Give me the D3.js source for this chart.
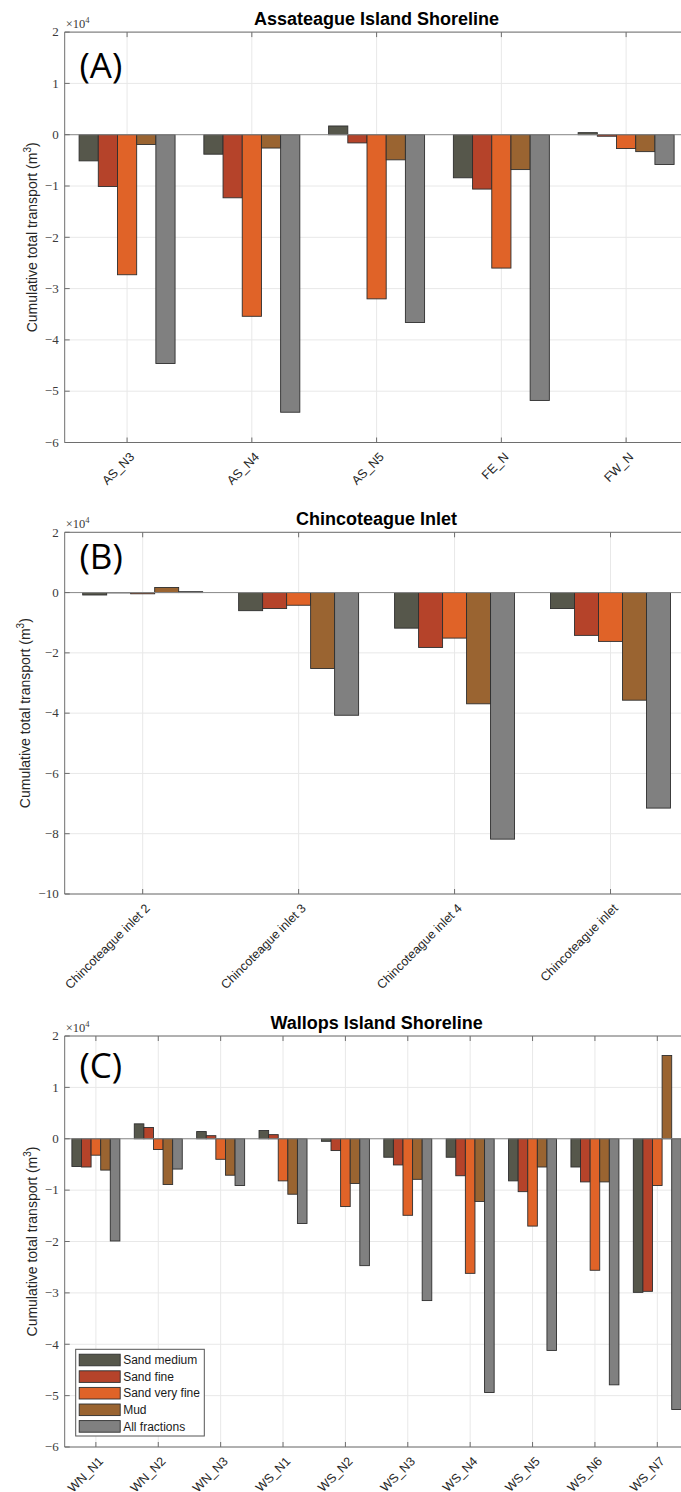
<!DOCTYPE html>
<html><head><meta charset="utf-8">
<script src="https://cdn.jsdelivr.net/npm/d3@7"></script>
<style>body{margin:0;background:#fff} svg{display:block}</style>
</head><body>
<svg id="chart" width="681" height="1492"></svg>
<script>
const seriesNames = ["Sand medium","Sand fine","Sand very fine","Mud","All fractions"];
const seriesColors = ["#56574b","#b5432a","#e06328","#9a6431","#808080"];

// Panel A (m^3)
const catsA = ["AS_N3","AS_N4","AS_N5","FE_N","FW_N"];
const sandMediumA   = [-5100, -3800, 1700, -8400, 400];
const sandFineA     = [-10100, -12300, -1600, -10600, -300];
const sandVeryFineA = [-27300, -35400, -32000, -26000, -2700];
const mudA          = [-1900, -2600, -4900, -6800, -3300];
const allA          = [-44600, -54100, -36600, -51800, -5800];
const ticksA = [20000, 10000, 0, -10000, -20000, -30000, -40000, -50000, -60000];

// Panel B (m^3)
const catsB = ["Chincoteague inlet 2","Chincoteague inlet 3","Chincoteague inlet 4","Chincoteague inlet"];
const sandMediumB   = [-800, -6000, -11800, -5300];
const sandFineB     = [-100, -5300, -18200, -14200];
const sandVeryFineB = [-400, -4200, -15100, -16200];
const mudB          = [1700, -25200, -36900, -35700];
const allB          = [300, -40700, -81800, -71500];
const ticksB = [20000, 0, -20000, -40000, -60000, -80000, -100000];

// Panel C (m^3)
const catsC = ["WN_N1","WN_N2","WN_N3","WS_N1","WS_N2","WS_N3","WS_N4","WS_N5","WS_N6","WS_N7"];
const sandMediumC   = [-5400, 2900, 1400, 1600, -500, -3600, -3600, -8200, -5500, -29900];
const sandFineC     = [-5500, 2200, 600, 800, -2300, -5100, -7200, -10300, -8400, -29700];
const sandVeryFineC = [-3200, -2100, -4000, -8200, -13200, -14900, -26200, -17000, -25600, -9100];
const mudC          = [-6100, -8900, -7100, -10800, -8700, -7900, -12200, -5500, -8400, 16200];
const allC          = [-19900, -5900, -9100, -16500, -24700, -31500, -49400, -41200, -47900, -52700];
const ticksC = [20000, 10000, 0, -10000, -20000, -30000, -40000, -50000, -60000];

const panels = [
  {title:"Assateague Island Shoreline", letter:"(A)", cats:catsA,
   values:[sandMediumA, sandFineA, sandVeryFineA, mudA, allA], ticks:ticksA,
   top:32.1, bottom:442.5, letterY:78, ylabelX:37, legend:false},
  {title:"Chincoteague Inlet", letter:"(B)", cats:catsB,
   values:[sandMediumB, sandFineB, sandVeryFineB, mudB, allB], ticks:ticksB,
   top:532.3, bottom:894, letterY:569, ylabelX:30, legend:false},
  {title:"Wallops Island Shoreline", letter:"(C)", cats:catsC,
   values:[sandMediumC, sandFineC, sandVeryFineC, mudC, allC], ticks:ticksC,
   top:1036, bottom:1447, letterY:1078, ylabelX:37, legend:true}
];

const svg = d3.select("#chart");
const xLeft = 64.7, xRight = 688.5;
const axisColor = "#6e6e6e", gridColor = "#e8e8e8";
const fmt = v => { const n = v/10000; return (n < 0 ? "\u2212" : "") + Math.abs(n); };

panels.forEach(p => {
  const g = svg.append("g");
  const x = d3.scaleBand().domain(p.cats).range([xLeft, xRight]).paddingInner(0).paddingOuter(0);
  const y = d3.scaleLinear().domain([p.ticks[p.ticks.length-1], p.ticks[0]]).range([p.bottom, p.top]);
  const groupW = x.bandwidth() * 5 / 6.5;
  const xs = d3.scaleBand().domain(seriesNames).range([-groupW/2, groupW/2]).padding(0);

  g.append("g").selectAll("line").data(p.ticks).join("line")
    .attr("x1", xLeft).attr("x2", xRight).attr("y1", d=>y(d)).attr("y2", d=>y(d))
    .attr("stroke", gridColor).attr("stroke-width", 1);
  g.append("g").selectAll("line").data(p.cats).join("line")
    .attr("x1", d=>x(d)+x.bandwidth()/2).attr("x2", d=>x(d)+x.bandwidth()/2)
    .attr("y1", p.top).attr("y2", p.bottom)
    .attr("stroke", gridColor).attr("stroke-width", 1);

  seriesNames.forEach((s, si) => {
    g.append("g").selectAll("rect").data(p.values[si]).join("rect")
      .attr("x", (d,i) => x(p.cats[i]) + x.bandwidth()/2 + xs(s))
      .attr("width", xs.bandwidth())
      .attr("y", d => y(Math.max(0, d)))
      .attr("height", d => Math.abs(y(d) - y(0)))
      .attr("fill", seriesColors[si])
      .attr("stroke", "#2e2e2e").attr("stroke-width", 0.9);
  });

  g.append("line").attr("x1", xLeft).attr("x2", xRight).attr("y1", y(0)).attr("y2", y(0))
    .attr("stroke", "#8a8a8a").attr("stroke-width", 1);

  g.append("line").attr("x1", xLeft).attr("x2", xRight).attr("y1", p.top).attr("y2", p.top).attr("stroke", axisColor);
  g.append("line").attr("x1", xLeft).attr("x2", xRight).attr("y1", p.bottom).attr("y2", p.bottom).attr("stroke", axisColor);
  g.append("line").attr("x1", xLeft).attr("x2", xLeft).attr("y1", p.top).attr("y2", p.bottom).attr("stroke", axisColor);

  const yt = g.append("g").selectAll("g").data(p.ticks).join("g");
  yt.append("line").attr("x1", xLeft).attr("x2", xLeft+5).attr("y1", d=>y(d)).attr("y2", d=>y(d)).attr("stroke", axisColor);
  yt.append("text").attr("x", xLeft-6).attr("y", d=>y(d)).attr("dy","0.33em")
    .attr("text-anchor","end").attr("font-family","'Liberation Serif', serif").attr("font-size", 13)
    .attr("fill","#3a3a3a").text(fmt);

  const xt = g.append("g").selectAll("g").data(p.cats).join("g");
  xt.append("line").attr("x1", d=>x(d)+x.bandwidth()/2).attr("x2", d=>x(d)+x.bandwidth()/2)
    .attr("y1", p.bottom).attr("y2", p.bottom-5).attr("stroke", axisColor);
  xt.append("line").attr("x1", d=>x(d)+x.bandwidth()/2).attr("x2", d=>x(d)+x.bandwidth()/2)
    .attr("y1", p.top).attr("y2", p.top+5).attr("stroke", axisColor);
  xt.append("text")
    .attr("transform", d => `translate(${x(d)+x.bandwidth()/2+5},${p.bottom+12}) rotate(-45)`)
    .attr("text-anchor","end").attr("dy","0.35em")
    .attr("font-family","'Liberation Sans', Arial, sans-serif").attr("font-size", 12.5)
    .attr("fill","#262626").text(d=>d);

  const ex = g.append("text").attr("x", xLeft+1).attr("y", p.top-4.5)
    .attr("font-family","'Liberation Serif', serif").attr("font-size", 12.5).attr("fill","#3a3a3a");
  ex.append("tspan").text("\u00d710");
  ex.append("tspan").attr("font-size", 8.5).attr("dy", -5).text("4");

  g.append("text").attr("x", (xLeft+xRight)/2).attr("y", p.top-7)
    .attr("text-anchor","middle").attr("font-family","'Liberation Sans', Arial, sans-serif")
    .attr("font-weight","bold").attr("font-size", 18).attr("fill","#000").text(p.title);

  g.append("text").attr("x", 79.5).attr("y", p.letterY)
    .attr("font-family","'Open Sans', sans-serif").attr("font-size", 35).attr("fill","#000").text(p.letter);

  const yl = g.append("text")
    .attr("transform", `translate(${p.ylabelX},${(p.top+p.bottom)/2}) rotate(-90)`)
    .attr("text-anchor","middle").attr("font-family","'Liberation Sans', Arial, sans-serif")
    .attr("font-size", 14).attr("fill","#262626");
  yl.append("tspan").text("Cumulative total transport (m");
  yl.append("tspan").attr("font-size", 10).attr("dy", -6).text("3");
  yl.append("tspan").attr("dy", 6).text(")");

  if (p.legend) {
    const lx = 75.7, ly = 1349.3, lw = 128.6, lh = 86.7, rowH = 16.6;
    const lg = g.append("g");
    lg.append("rect").attr("x", lx).attr("y", ly).attr("width", lw).attr("height", lh)
      .attr("fill","#fff").attr("stroke","#555").attr("stroke-width", 1);
    seriesNames.forEach((s, si) => {
      const cy = ly + 10.7 + si * rowH;
      lg.append("rect").attr("x", lx+3.5).attr("y", cy-5.8).attr("width", 41).attr("height", 11.6)
        .attr("fill", seriesColors[si]).attr("stroke","#2e2e2e").attr("stroke-width", 0.9);
      lg.append("text").attr("x", lx+47.5).attr("y", cy).attr("dy","0.35em")
        .attr("font-family","'Liberation Sans', Arial, sans-serif").attr("font-size", 12)
        .attr("fill","#1a1a1a").text(s);
    });
  }
});
</script>
</body></html>
